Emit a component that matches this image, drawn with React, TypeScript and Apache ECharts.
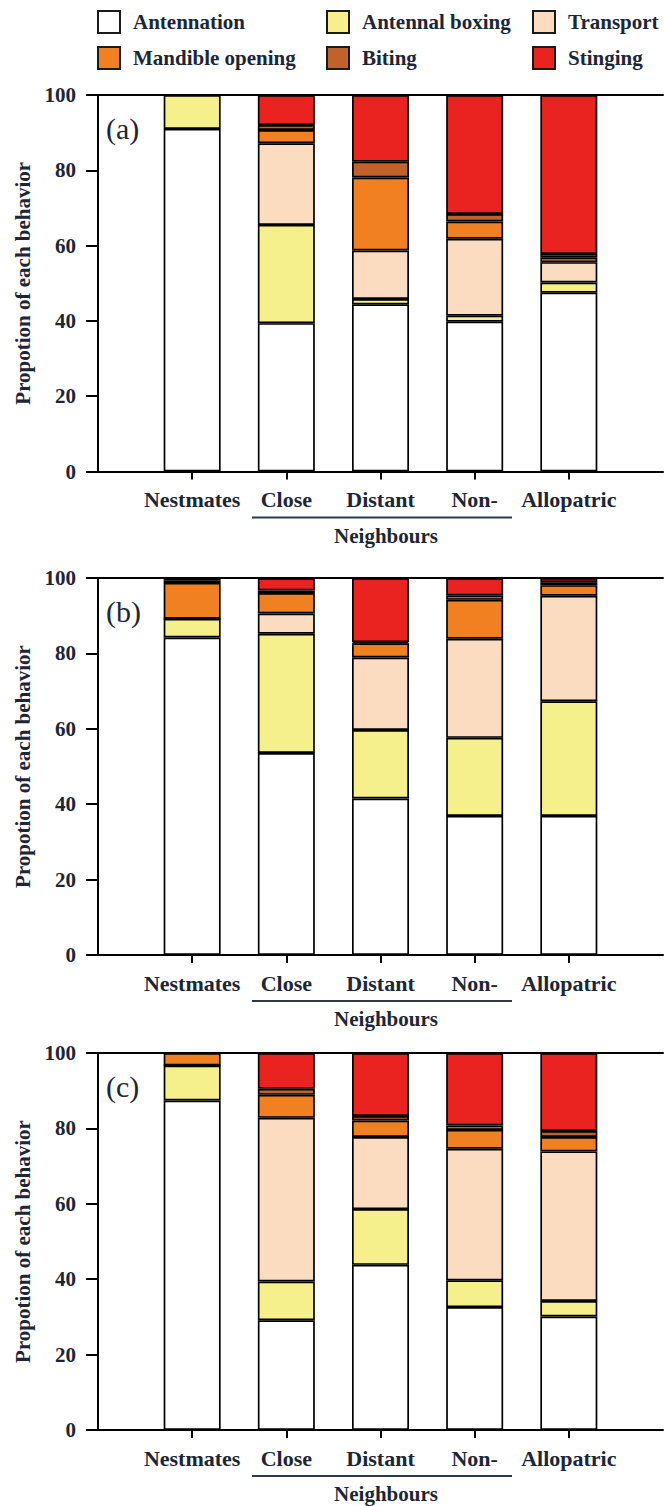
import React, { useEffect, useRef } from "react";
import * as echarts from "echarts";

const categories = ["", "Nestmates", "Close", "Distant", "Non-", "Allopatric", ""];
const behaviors = ["Antennation", "Antennal boxing", "Transport", "Mandible opening", "Biting", "Stinging"];
const behaviorColors = ["#ffffff", "#f6f08c", "#fcdcc0", "#f08020", "#c0622a", "#ea2220"];
const yTicks = [0, 20, 40, 60, 80, 100];
const panelLabels = ["(a)", "(b)", "(c)"];

// Panel (a) - order: Nestmates, Close, Distant, Non-, Allopatric
const antennationA = [91, 39.4, 44.4, 39.8, 47.5];
const boxingA = [9, 26.1, 1.4, 1.6, 2.7];
const transportA = [0, 21.7, 12.9, 20.4, 5.4];
const mandibleA = [0, 3.5, 19.4, 4.6, 1.2];
const bitingA = [0, 1.3, 4.2, 2.0, 1.0];
const stingingA = [0, 8.0, 17.7, 31.6, 42.2];

// Panel (b)
const antennationB = [84.2, 53.6, 41.5, 36.9, 36.9];
const boxingB = [5.0, 31.6, 18.2, 20.7, 30.4];
const transportB = [0, 5.4, 19.2, 26.3, 28.0];
const mandibleB = [9.5, 5.4, 3.8, 10.3, 2.8];
const bitingB = [0.6, 0.7, 0.3, 1.2, 0.8];
const stingingB = [0.7, 3.3, 17.0, 4.6, 1.1];

// Panel (c)
const antennationC = [87.4, 29.1, 43.8, 32.6, 30.1];
const boxingC = [9.3, 10.3, 14.8, 7.1, 4.1];
const transportC = [0, 43.4, 19.1, 34.9, 39.7];
const mandibleC = [3.3, 6.1, 4.4, 5.0, 3.8];
const bitingC = [0, 1.6, 1.2, 1.2, 1.6];
const stingingC = [0, 9.5, 16.7, 19.2, 20.7];

const panels = [
  [antennationA, boxingA, transportA, mandibleA, bitingA, stingingA],
  [antennationB, boxingB, transportB, mandibleB, bitingB, stingingB],
  [antennationC, boxingC, transportC, mandibleC, bitingC, stingingC],
];

const FONT = "'Liberation Serif', 'Times New Roman', serif";
const TEXT = "#1b2637";

export default function App() {
  const ref = useRef<HTMLDivElement>(null);
  useEffect(() => {
    if (!ref.current) return;
    const chart = echarts.init(ref.current, null, { renderer: "svg" });
    const tops = [95, 578, 1053];
    const heights = [376.5, 377, 377];
    const grids = tops.map((t, i) => ({ left: 98, right: 0, top: t, height: heights[i] }));
    const xAxes: any[] = [];
    const yAxes: any[] = [];
    tops.forEach((_, i) => {
      xAxes.push({
        type: "category",
        gridIndex: i,
        data: categories,
        boundaryGap: false,
        axisLine: { lineStyle: { color: "#000", width: 2 } },
        axisTick: {
          show: true,
          length: 8,
          interval: (idx: number) => idx >= 1 && idx <= 5,
          lineStyle: { color: "#000", width: 2 },
        },
        axisLabel: {
          interval: 0,
          margin: 17,
          fontFamily: FONT,
          fontWeight: "bold",
          fontSize: 22,
          color: TEXT,
        },
      });
      xAxes.push({
        type: "category",
        gridIndex: i,
        data: categories,
        boundaryGap: false,
        position: "top",
        axisLine: { lineStyle: { color: "#000", width: 2 } },
        axisTick: { show: false },
        axisLabel: { show: false },
      });
      yAxes.push({
        type: "value",
        gridIndex: i,
        min: 0,
        max: 100,
        interval: 20,
        name: "Propotion of each behavior",
        nameLocation: "middle",
        nameGap: 58,
        nameTextStyle: { fontFamily: FONT, fontWeight: "bold", fontSize: 21, color: TEXT },
        axisLine: { show: true, lineStyle: { color: "#000", width: 2 } },
        axisTick: { show: true, length: 12, lineStyle: { color: "#000", width: 2 } },
        splitLine: { show: false },
        axisLabel: {
          margin: 22,
          fontFamily: FONT,
          fontWeight: "bold",
          fontSize: 21,
          color: TEXT,
          customValues: yTicks,
        },
      });
    });

    const series: any[] = [];
    panels.forEach((panel, pi) => {
      panel.forEach((arr, bi) => {
        series.push({
          type: "bar",
          name: behaviors[bi],
          xAxisIndex: pi * 2,
          yAxisIndex: pi,
          stack: "panel" + pi,
          barWidth: 57,
          data: ["-", ...arr, "-"],
          itemStyle: { color: behaviorColors[bi], borderColor: "#000", borderWidth: 1.7 },
          emphasis: { disabled: true },
        });
      });
    });

    const graphics: any[] = [];
    // legend
    const legendCols = [98, 327, 533];
    const legendRows = [22, 58];
    behaviors.forEach((b, i) => {
      const col = [0, 1, 2, 0, 1, 2][i];
      const row = i < 3 ? 0 : 1;
      const x = legendCols[col];
      const y = legendRows[row];
      graphics.push({
        type: "rect",
        shape: { x: x, y: y - 11, width: 22, height: 22 },
        style: { fill: behaviorColors[i], stroke: "#1a1a1a", lineWidth: 2 },
      });
      graphics.push({
        type: "text",
        x: x + 35,
        y: y,
        style: {
          text: b,
          fontFamily: FONT,
          fontWeight: "bold",
          fontSize: 21,
          fill: TEXT,
          verticalAlign: "middle",
          align: "left",
        },
      });
    });
    // panel labels, underline and group label
    tops.forEach((t, i) => {
      graphics.push({
        type: "text",
        x: 106,
        y: t + 33,
        style: {
          text: panelLabels[i],
          fontFamily: FONT,
          fontSize: 30,
          fill: TEXT,
          verticalAlign: "middle",
          align: "left",
        },
      });
      const base = t + heights[i];
      graphics.push({
        type: "line",
        shape: { x1: 252, y1: base + 46, x2: 512, y2: base + 46 },
        style: { stroke: "#2a3a4a", lineWidth: 2 },
      });
      graphics.push({
        type: "text",
        x: 386,
        y: base + 64,
        style: {
          text: "Neighbours",
          fontFamily: FONT,
          fontWeight: "bold",
          fontSize: 21,
          fill: TEXT,
          verticalAlign: "middle",
          align: "center",
        },
      });
    });

    chart.setOption({
      animation: false,
      backgroundColor: "#ffffff",
      grid: grids,
      xAxis: xAxes,
      yAxis: yAxes,
      series,
      graphic: graphics,
    });
    return () => chart.dispose();
  }, []);
  return (
    <div
      ref={ref}
      style={{ position: "absolute", left: 0, top: 0, width: 666, height: 1506 }}
    />
  );
}
